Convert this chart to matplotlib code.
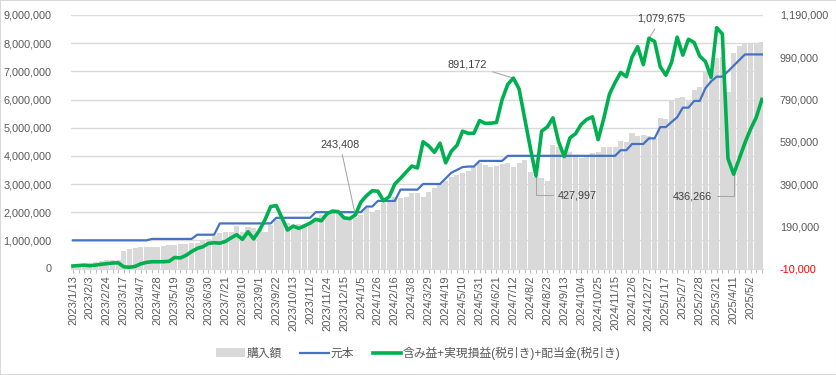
import matplotlib
matplotlib.use("Agg")
import matplotlib.pyplot as plt
from matplotlib.patches import Rectangle
import pandas as pd

plt.rcParams['font.family'] = ['Liberation Sans', 'Noto Sans CJK JP']

# weekly dates (two holiday weeks bought on Thursday)
dates = pd.date_range("2023-01-13", periods=123, freq="7D")
date_labels = [f"{d.year}/{d.month}/{d.day}" for d in dates]
date_labels = [s.replace("2023/8/11", "2023/8/10").replace("2023/11/3", "2023/11/2") for s in date_labels]

# 購入額 (left axis, yen)
purchase = [0.10, 0.13, 0.17, 0.20, 0.24, 0.28, 0.30, 0.30, 0.30, 0.62,
            0.70, 0.73, 0.75, 0.76, 0.77, 0.78, 0.80, 0.82, 0.84, 0.87,
            0.88, 0.90, 0.92, 0.98, 1.05, 1.15, 1.25, 1.28, 1.30, 1.50,
            1.30, 1.46, 1.43, 1.36, 1.30, 1.55, 1.72, 1.75, 1.60, 1.55,
            1.57, 1.58, 1.60, 1.78, 1.90, 1.95, 1.98, 1.96, 1.84, 1.78,
            1.78, 1.90, 2.14, 2.02, 2.08, 2.32, 2.43, 2.55, 2.49, 2.55,
            2.67, 2.69, 2.55, 2.73, 2.85, 2.95, 3.10, 3.26, 3.32, 3.38,
            3.45, 3.62, 3.74, 3.68, 3.60, 3.64, 3.70, 3.76, 3.62, 3.74,
            3.85, 3.44, 3.26, 3.20, 3.10, 4.39, 4.33, 4.13, 4.15, 4.03,
            3.92, 3.97, 4.10, 4.15, 4.30, 4.33, 4.33, 4.54, 4.48, 4.80,
            4.72, 4.74, 4.72, 4.62, 5.34, 5.30, 6.00, 6.05, 6.08, 6.00,
            6.34, 6.46, 7.00, 7.05, 7.47, 7.50, 6.28, 7.64, 7.90, 8.00,
            8.00, 8.00, 8.03]
purchase = [v * 1e6 for v in purchase]

# 元本 (left axis, yen)
principal = [1.00] * 14 + [1.05] * 8 + [1.20] * 4 + [1.60] * 10 + [1.80] * 7 \
    + [2.00] * 9 + [2.20] * 2 + [2.40] * 4 + [2.80] * 4 + [3.00] * 4 \
    + [3.20, 3.40, 3.50, 3.60, 3.62, 3.62] + [3.82] * 5 + [4.00] * 20 \
    + [4.20] * 2 + [4.42] * 3 + [4.62] * 2 + [5.02] * 2 + [5.20, 5.37] \
    + [5.71] * 2 + [5.95] * 2 + [6.40, 6.64, 6.81, 6.81, 7.00, 7.20, 7.40] \
    + [7.60] * 4
principal = [v * 1e6 for v in principal]

# 含み益+実現損益(税引き)+配当金(税引き) (right axis, yen)
profit = [2000, 4000, 6000, 3000, 6000, 10000, 13000, 16000, 17000, -2000,
          -4000, 0, 12000, 19000, 22000, 22000, 22000, 24000, 42000, 40000,
          52000, 70000, 85000, 93000, 109000, 112000, 110000, 118000, 135000, 150000,
          128000, 164000, 130000, 170000, 220000, 283000, 288000, 230000, 172000, 191000,
          180000, 192000, 205000, 223000, 216000, 250000, 262000, 259000, 230000, 226000,
          243408, 305000, 335000, 358000, 356000, 310000, 330000, 390000, 417000, 446000,
          475000, 466000, 590000, 570000, 540000, 583000, 490000, 545000, 573000, 640000,
          630000, 630000, 690000, 677000, 678000, 681000, 790000, 862000, 891172, 840000,
          700000, 560000, 427997, 640000, 660000, 703000, 590000, 520000, 608000, 628000,
          672000, 696000, 708000, 600000, 700000, 815000, 870000, 918000, 898000, 990000,
          1040000, 955000, 1079675, 1065000, 945000, 905000, 965000, 1085000, 1000000, 1075000,
          1060000, 995000, 970000, 895000, 1130000, 1100000, 510000, 436266, 510000, 585000,
          650000, 705000, 790000]

# labelled points: (index, text offset in points, connection style)
callouts = [(50, (-11, 51), "arc3"),
            (78, (-33, 10), "arc3"),
            (102, (9, 14), "arc3"),
            (82, (30, -14), "angle,angleA=0,angleB=90,rad=0"),
            (117, (-30, -16), "angle,angleA=0,angleB=90,rad=0")]

TXT = "#595959"
x = list(range(len(dates)))

fig = plt.figure(figsize=(8.37, 3.75), dpi=100)
ax = fig.add_axes([71 / 837, 1 - 268.5 / 375, 692 / 837, 253.5 / 375])
bars = ax.bar(x, purchase, width=0.9, color="#d9d9d9", zorder=1, label="購入額")
line_p, = ax.plot(x, principal, color="#4472c4", lw=1.6, zorder=3, label="元本")
ax.set_ylim(0, 9e6)
ax.set_yticks([i * 1e6 for i in range(10)])
ax.set_yticklabels([f"{i * 1000000:,}" for i in range(10)])
ax.set_xlim(-0.35, 122.2)
ax.set_xticks(x)
ax.set_xticklabels([lab if i % 3 == 0 else "" for i, lab in enumerate(date_labels)],
                   rotation=90, fontsize=8, color=TXT)
ax.tick_params(axis="x", length=3, color="#bfbfbf", pad=2)
ax.tick_params(axis="y", length=0, labelsize=7.8, labelcolor=TXT, pad=14)
ax.grid(axis="y", color="#d9d9d9", lw=1)
ax.set_axisbelow(True)
for s in ["top", "left", "right"]:
    ax.spines[s].set_visible(False)
ax.spines["bottom"].set_color("#d9d9d9")

ax2 = ax.twinx()
line_g, = ax2.plot(x, profit, color="#00b050", lw=2.6, zorder=4,
                   label="含み益+実現損益(税引き)+配当金(税引き)")
ax2.set_ylim(-10000, 1190000)
rt = list(range(-10000, 1190001, 200000))
ax2.set_yticks(rt)
ax2.set_yticklabels([f"{v:,}" for v in rt])
ax2.tick_params(axis="y", length=0, labelsize=7.8, labelcolor=TXT, pad=12)
ax2.get_yticklabels()[0].set_color("red")
for s in ax2.spines.values():
    s.set_visible(False)

for idx, off, cs in callouts:
    ax2.annotate(f"{profit[idx]:,}", xy=(idx, profit[idx]), xytext=off,
                 textcoords="offset points", ha="center", va="center",
                 fontsize=7.8, color="#404040",
                 arrowprops=dict(arrowstyle="-", color="#a6a6a6", lw=0.75,
                                 shrinkA=2, shrinkB=0, connectionstyle=cs))

fig.legend([bars, line_p, line_g],
           ["購入額", "元本", "含み益+実現損益(税引き)+配当金(税引き)"],
           loc="center", bbox_to_anchor=(0.5, 1 - 353 / 375),
           ncol=3, frameon=False, fontsize=8.5, handlelength=2.4,
           handletextpad=0.15, columnspacing=1.6, labelcolor=TXT)

fig.patches.append(Rectangle((0, 0), 1, 1, transform=fig.transFigure, fill=False,
                             edgecolor="#d9d9d9", lw=1.5))
fig.savefig("out.png", dpi=100)
